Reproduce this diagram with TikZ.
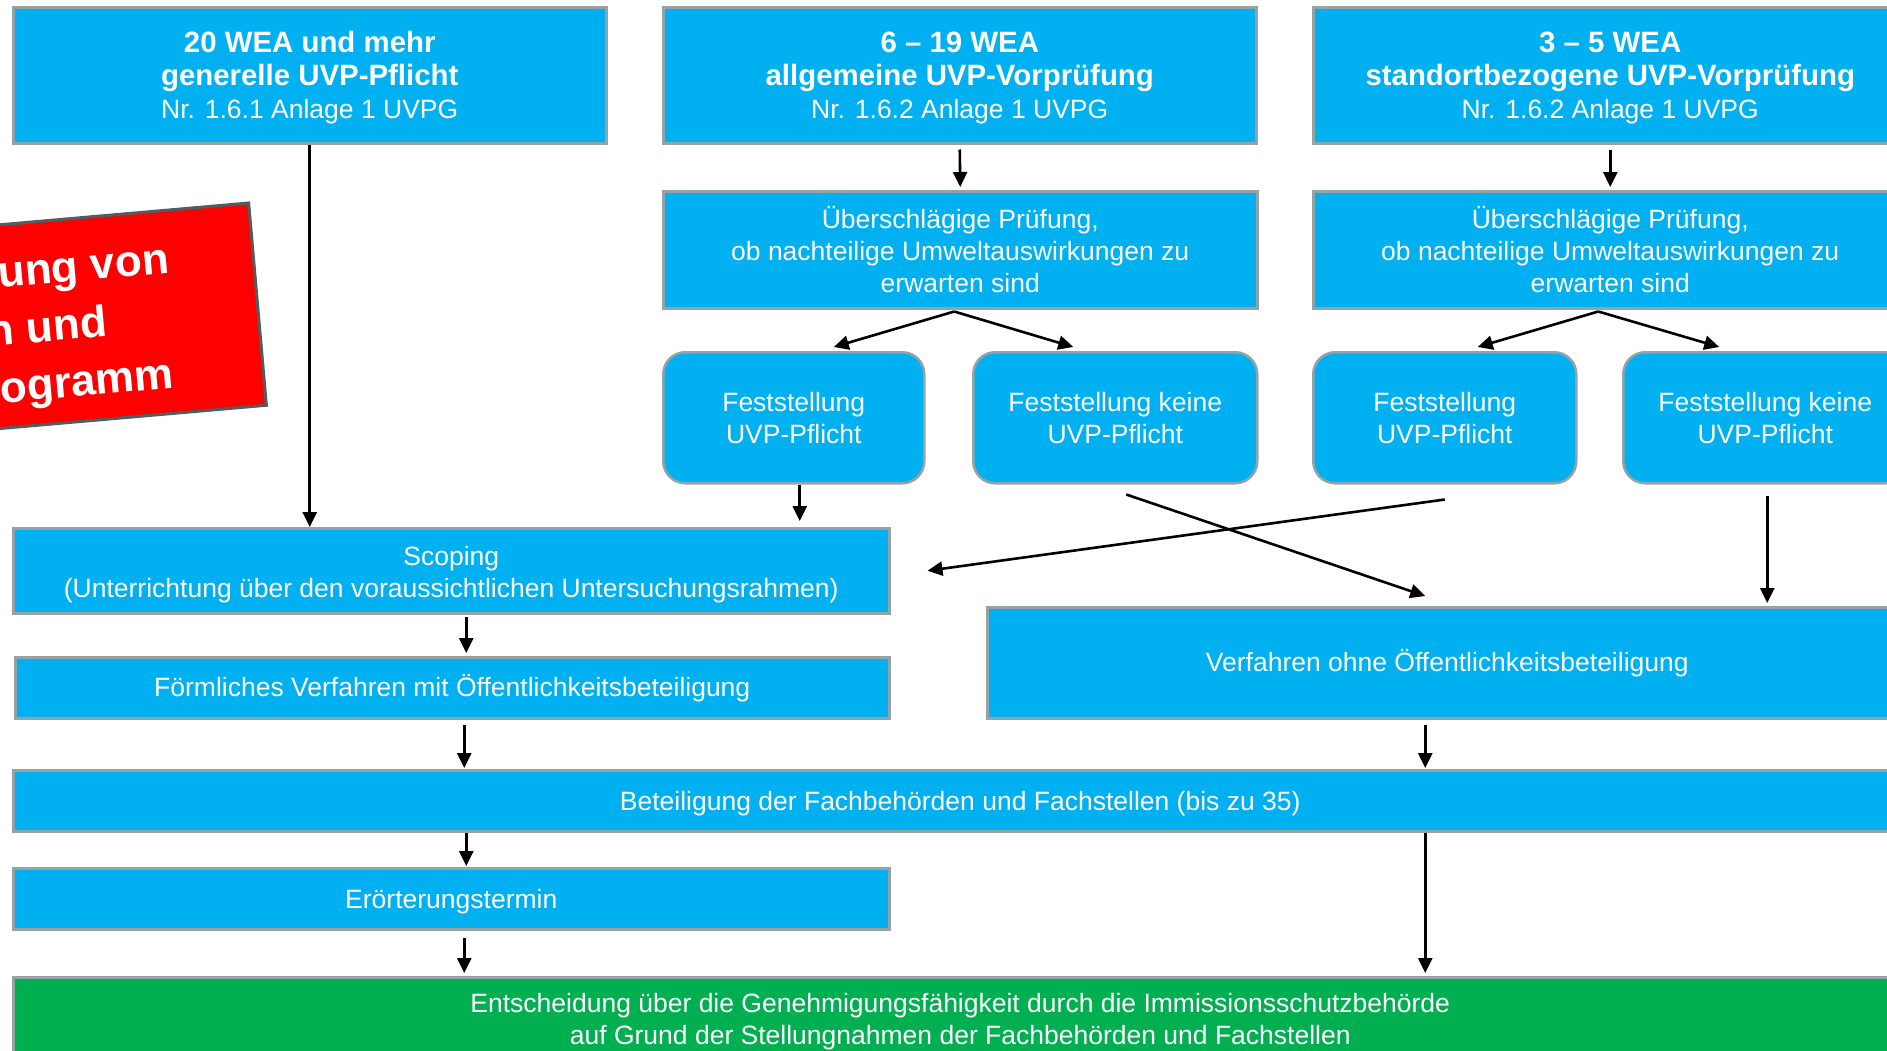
\documentclass[tikz,border=0pt]{standalone}
\usepackage{fontspec}
\setmainfont{Liberation Sans}
\usetikzlibrary{arrows.meta,calc}
\definecolor{uvpblue}{HTML}{00B0F0}
\definecolor{uvpgreen}{HTML}{00B050}
\definecolor{boxgray}{HTML}{95A3A6}
\definecolor{redgray}{HTML}{4F5F5F}
\newcommand{\boxhead}[1]{{\fontsize{29.4}{33}\selectfont\bfseries #1}}

\begin{document}
\begin{tikzpicture}[>={Triangle[length=15pt,width=14pt]}, x=1pt, y=-1pt,
  box/.style={draw=boxgray, line width=2.5pt, fill=uvpblue, text=white, inner sep=0pt,
    anchor=north west, align=center, font=\fontsize{26.5}{32}\selectfont},
  roundbox/.style={box, rounded corners=22pt},
  arr/.style={->, line width=2.6pt},
  redtext/.style={text=white, rotate=5, anchor=base east, inner sep=0pt, font=\fontsize{44}{56}\selectfont\bfseries}]

\useasboundingbox (0,0) rectangle (1887,1050);
\clip (0,0) rectangle (1887,1050);

\node[box, minimum width=593, minimum height=136] (t1) at (12,6) {\rule{0pt}{26pt}\boxhead{20 WEA und mehr}\\[1pt]\boxhead{generelle UVP-Pflicht}\\[1pt]Nr. 1.6.1 Anlage 1 UVPG};
\node[box, minimum width=593, minimum height=136] (t2) at (662,6) {\rule{0pt}{26pt}\boxhead{6 – 19 WEA}\\[1pt]\boxhead{allgemeine UVP-Vorprüfung}\\[1pt]Nr. 1.6.2 Anlage 1 UVPG};
\node[box, minimum width=594, minimum height=136] (t3) at (1312,6) {\rule{0pt}{26pt}\boxhead{3 – 5 WEA}\\[1pt]\boxhead{standortbezogene UVP-Vorprüfung}\\[1pt]Nr. 1.6.2 Anlage 1 UVPG};

\node[box, minimum width=594, minimum height=117] (u1) at (662,190) {Überschlägige Prüfung,\\ob nachteilige Umweltauswirkungen zu\\erwarten sind};
\node[box, minimum width=594, minimum height=117] (u2) at (1312,190) {Überschlägige Prüfung,\\ob nachteilige Umweltauswirkungen zu\\erwarten sind};

\node[roundbox, minimum width=261, minimum height=131] (f1) at (662,351) {Feststellung\\UVP-Pflicht};
\node[roundbox, minimum width=284, minimum height=131] (f2) at (972,351) {Feststellung keine\\UVP-Pflicht};
\node[roundbox, minimum width=263, minimum height=131] (f3) at (1312,351) {Feststellung\\UVP-Pflicht};
\node[roundbox, minimum width=284, minimum height=131] (f4) at (1622,351) {Feststellung keine\\UVP-Pflicht};

\node[box, minimum width=876, minimum height=85] (scop) at (12,527) {\rule{0pt}{26pt}Scoping\\(Unterrichtung über den voraussichtlichen Untersuchungsrahmen)};
\node[box, minimum width=874, minimum height=61] (form) at (14,656) {Förmliches Verfahren mit Öffentlichkeitsbeteiligung};
\node[box, minimum width=920, minimum height=111] (verf) at (986,606) {Verfahren ohne Öffentlichkeitsbeteiligung};
\node[box, minimum width=1894, minimum height=61] (bet) at (12,769) {\rule{0pt}{25pt}Beteiligung der Fachbehörden und Fachstellen (bis zu 35)};
\node[box, minimum width=876, minimum height=61] (eror) at (12,867) {\rule{0pt}{25pt}Erörterungstermin};
\node[box, fill=uvpgreen, minimum width=1894, minimum height=88] (green) at (12,976) {Entscheidung über die Genehmigungsfähigkeit durch die Immissionsschutzbehörde\\auf Grund der Stellungnahmen der Fachbehörden und Fachstellen};

\node[draw=redgray, line width=3pt, fill=red, rotate=5, anchor=east, minimum width=600, minimum height=203] (hint) at (259,304) {};
\node[redtext] at (170,273) {ung von};
\node[redtext] at (108,336) {n und};
\node[redtext] at (175,388) {ogramm};

\draw[arr] (t1.south) -- (t1.south |- scop.north);
\draw[arr] ($(t2.south)+(0,5)$) -- ($(u1.north)+(0,-3)$);
\draw[arr] ($(t3.south)+(0,5)$) -- ($(u2.north)+(0,-3)$);

\coordinate (s1) at ($(u1.south)+(-6,2)$);
\draw[arr] (s1) -- ($(f1.north)+(40,-4)$);
\draw[arr] (s1) -- ($(f2.north)+(-42,-4)$);
\coordinate (s2) at ($(u2.south)+(-12,2)$);
\draw[arr] (s2) -- ($(f3.north)+(33,-4)$);
\draw[arr] (s2) -- ($(f4.north)+(-46,-4)$);

\draw[arr] ($(f1.south)+(6,0)$) -- ($(f1.south |- scop.north)+(6,-6)$);
\draw[arr] ($(f2.south)+(11,10)$) -- ($(verf.north)+(-22,-10)$);
\draw[arr] ($(f3.south)+(0,15)$) -- ($(scop.east)+(37,0)$);
\draw[arr] ($(f4.south)+(2,11)$) -- ($(f4.south |- verf.north)+(2,-3)$);

\draw[arr] ($(scop.south)+(15,2)$) -- ($(scop.south |- form.north)+(15,-3)$);
\draw[arr] ($(form.south)+(12,5)$) -- ($(form.south |- bet.north)+(12,-1)$);
\draw[arr] ($(verf.south)+(-22,5)$) -- ($(verf.south |- bet.north)+(-22,-1)$);
\draw[arr] ($(eror.north |- bet.south)+(15,0)$) -- ($(eror.north)+(15,-1)$);
\draw[arr] ($(eror.south)+(13,7)$) -- ($(eror.south |- green.north)+(13,-3)$);
\draw[arr] ($(verf.south |- bet.south)+(-22,0)$) -- ($(verf.south |- green.north)+(-22,-3)$);

\end{tikzpicture}
\end{document}
